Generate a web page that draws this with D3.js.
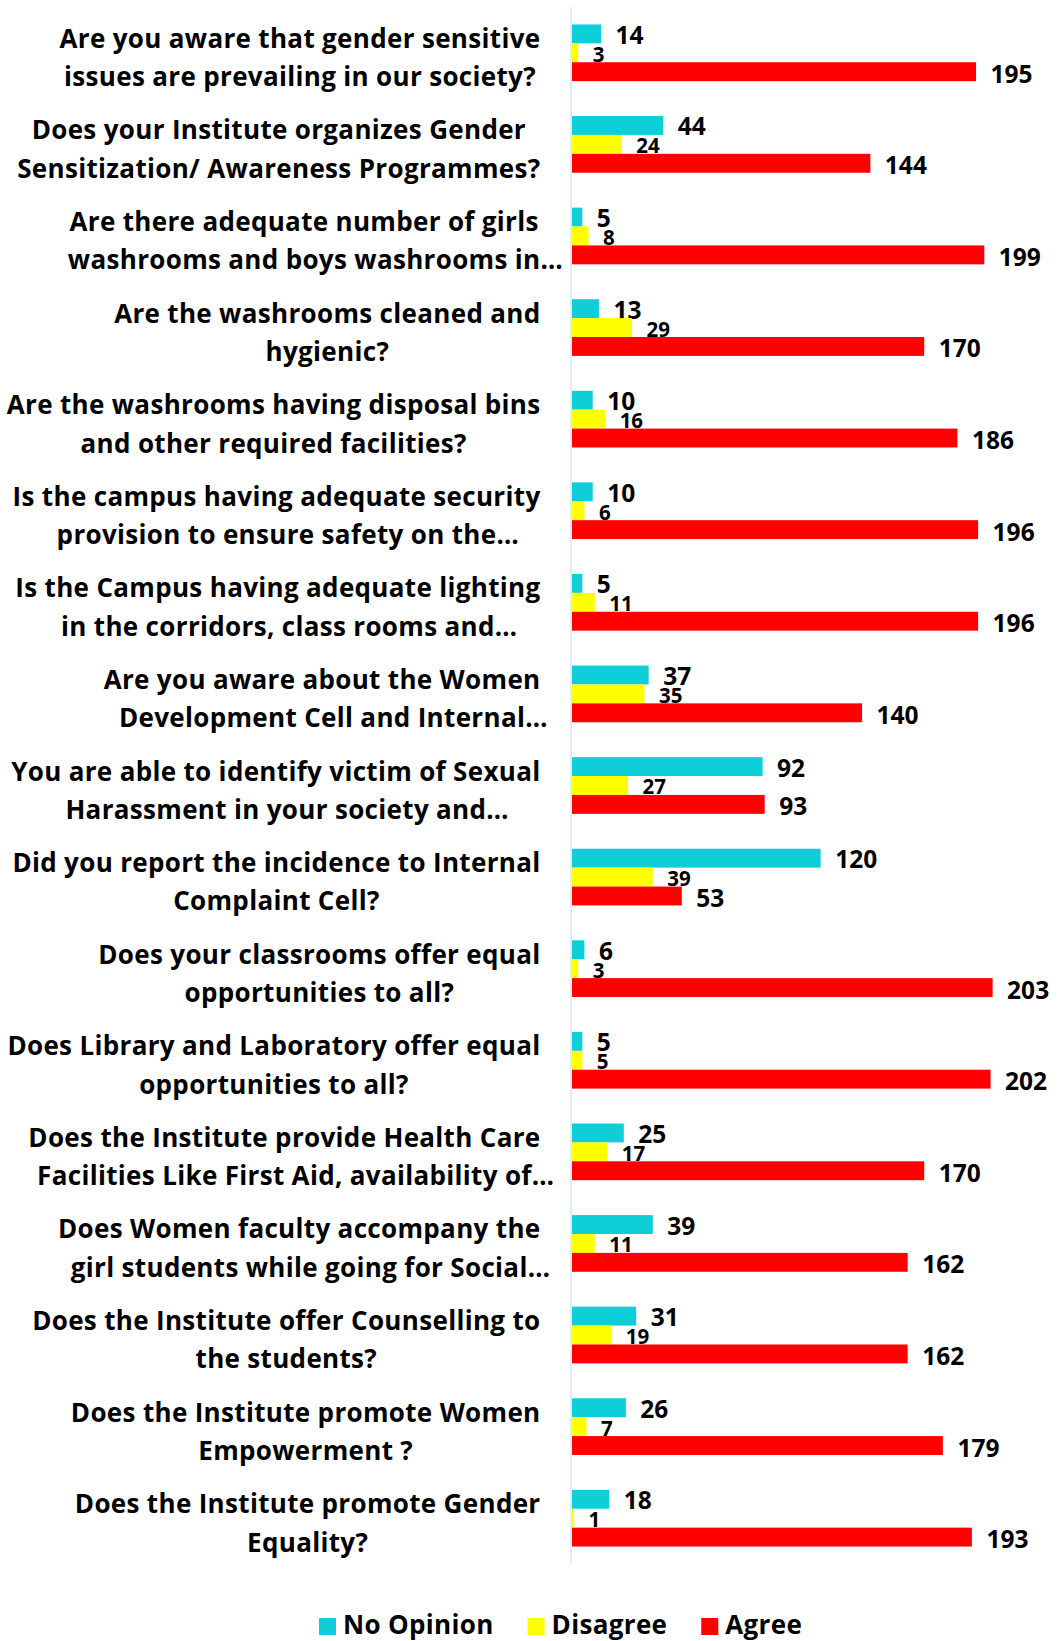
<!DOCTYPE html>
<html>
<head>
<meta charset="utf-8">
<script src="https://cdn.jsdelivr.net/npm/d3@7"></script>
<style>
  html, body { margin: 0; padding: 0; background: #fff; }
  svg { display: block; font-family: "Open Sans", "Noto Sans", sans-serif; }
</style>
</head>
<body>
<svg id="chart" width="1059" height="1641"></svg>
<script>
const categories = [
  "Are you aware that gender sensitive\nissues are prevailing in our society?",
  "Does your Institute organizes Gender\nSensitization/ Awareness Programmes?",
  "Are there adequate number of girls\nwashrooms and boys washrooms in…",
  "Are the washrooms cleaned and\nhygienic?",
  "Are the washrooms having disposal bins\nand other required facilities?",
  "Is the campus having adequate security\nprovision to ensure safety on the…",
  "Is the Campus having adequate lighting\nin the corridors, class rooms and…",
  "Are you aware about the Women\nDevelopment Cell and Internal…",
  "You are able to identify victim of Sexual\nHarassment in your society and…",
  "Did you report the incidence to Internal\nComplaint Cell?",
  "Does your classrooms offer equal\nopportunities to all?",
  "Does Library and Laboratory offer equal\nopportunities to all?",
  "Does the Institute provide Health Care\nFacilities Like First Aid, availability of…",
  "Does Women faculty accompany the\ngirl students while going for Social…",
  "Does the Institute offer Counselling to\nthe students?",
  "Does the Institute promote Women\nEmpowerment ?",
  "Does the Institute promote Gender\nEquality?"
];
const noOpinion = [14, 44, 5, 13, 10, 10, 5, 37, 92, 120, 6, 5, 25, 39, 31, 26, 18];
const disagree  = [3, 24, 8, 29, 16, 6, 11, 35, 27, 39, 3, 5, 17, 11, 19, 7, 1];
const agree     = [195, 144, 199, 170, 186, 196, 196, 140, 93, 53, 203, 202, 170, 162, 162, 179, 193];
const seriesNames = ["No Opinion", "Disagree", "Agree"];
const seriesColors = ["#0ecfd8", "#ffff00", "#ff0000"];

const seriesValues = [noOpinion, disagree, agree];

const svg = d3.select("#chart");
svg.append("rect").attr("width", 1059).attr("height", 1641).attr("fill", "#fff");

const plotTop = 7, plotBottom = 1564;
const x0 = 572;
const x = d3.scaleLinear().domain([0, 200]).range([x0, x0 + 414.4]);
const y = d3.scaleBand().domain(d3.range(categories.length))
  .range([plotTop, plotBottom]).paddingInner(0.381).paddingOuter(0.1905);
const ySub = d3.scaleBand().domain(d3.range(3)).range([0, y.bandwidth()]);

// axis line
svg.append("line")
  .attr("x1", 571).attr("x2", 571)
  .attr("y1", plotTop).attr("y2", plotBottom - 1)
  .attr("stroke", "#dbe5f3").attr("stroke-width", 1.6);

// bars
const labelDy = [10, 9, 11];
const groups = svg.append("g").selectAll("g")
  .data(categories.map((c, i) => i))
  .join("g")
  .attr("transform", i => `translate(0,${y(i)})`);

groups.each(function(i) {
  const g = d3.select(this);
  seriesValues.forEach((vals, s) => {
    const v = vals[i];
    g.append("rect")
      .attr("x", x(0))
      .attr("y", ySub(s))
      .attr("width", x(v) - x(0))
      .attr("height", ySub.bandwidth())
      .attr("fill", seriesColors[s]);
    g.append("text")
      .attr("x", x(v) + 14.5)
      .attr("y", ySub(s) + ySub.bandwidth() / 2 + labelDy[s])
      .attr("font-weight", 700)
      .attr("font-size", s === 1 ? 20.5 : 24.5)
      .attr("fill", "#000")
      .text(v);
  });
});

// category labels
const labelRight = 540.5;
const labelFont = 26;
const lineGap = 38.4;
const labelsG = svg.append("g")
  .attr("font-weight", 700).attr("font-size", labelFont)
  .attr("letter-spacing", 0.33).attr("fill", "#000");

const measurer = labelsG.append("text").attr("visibility", "hidden");
function measure(t) { measurer.text(t); return measurer.node().getComputedTextLength(); }

categories.forEach((cat, i) => {
  const lines = cat.split("\n");
  const widths = lines.map(l => measure(l.replace(/…$/, "")));
  const maxW = d3.max(widths);
  const cx = labelRight - maxW / 2;
  const cy = y(i) + y.bandwidth() / 2;
  lines.forEach((l, k) => {
    labelsG.append("text")
      .attr("x", cx - widths[k] / 2)
      .attr("y", cy - 5 + k * lineGap)
      .text(l);
  });
});
measurer.remove();

// legend
const legendG = svg.append("g")
  .attr("font-weight", 700).attr("font-size", labelFont)
  .attr("letter-spacing", 0.33).attr("fill", "#000");
let lx = 319;
const legBase = 1634;
seriesNames.forEach((name, s) => {
  legendG.append("rect")
    .attr("x", lx).attr("y", legBase - 16)
    .attr("width", 17).attr("height", 17)
    .attr("fill", seriesColors[s]);
  const t = legendG.append("text")
    .attr("x", lx + 24).attr("y", legBase)
    .text(name);
  lx += 24 + t.node().getComputedTextLength() + 34;
});
</script>
</body>
</html>
